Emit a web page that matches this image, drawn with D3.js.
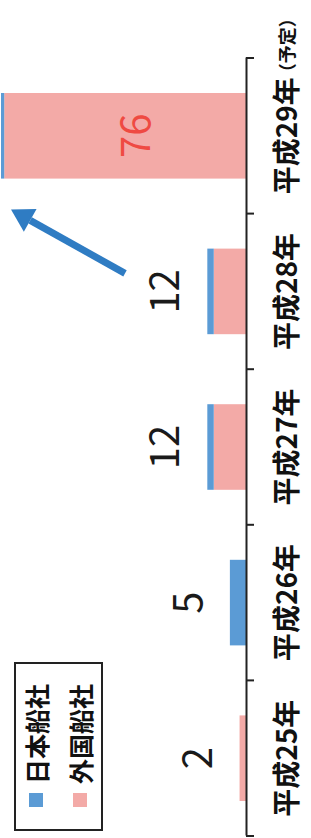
<!DOCTYPE html>
<html>
<head>
<meta charset="utf-8">
<script src="https://cdn.jsdelivr.net/npm/d3@7"></script>
<style>
  body { margin: 0; background: #fff; }
  text { font-family: 'Noto Sans CJK JP', 'Noto Sans', sans-serif; }
</style>
</head>
<body>
<script>
const categories = ['平成25年', '平成26年', '平成27年', '平成28年', '平成29年'];
const notes = ['', '', '', '', '（予定）'];
const japanese = [0, 5, 2, 2, 1];
const foreign = [2, 0, 10, 10, 75];
const seriesNames = ['日本船社', '外国船社'];

const blue = '#5b9bd5';
const pink = '#f3aaa7';

const width = 311;
const height = 838;

// the chart is laid out upright in a 838 x 311 frame and turned a quarter left
const W = height;

const data = categories.map((c, i) => ({
  cat: c,
  note: notes[i],
  japanese: japanese[i],
  foreign: foreign[i],
  total: japanese[i] + foreign[i]
}));

const svg = d3.select('body')
  .append('svg')
  .attr('width', width)
  .attr('height', height);

const g = svg.append('g')
  .attr('transform', `translate(0,${W}) rotate(-90)`);

const x = d3.scaleBand()
  .domain(categories)
  .range([2, 780])
  .paddingInner(0.45)
  .paddingOuter(0.225);

const y = d3.scaleLinear()
  .domain([0, 76])
  .range([246, 1]);

const stacked = d3.stack().keys(['foreign', 'japanese'])(data);
const color = { foreign: pink, japanese: blue };

g.append('g')
  .selectAll('g')
  .data(stacked)
  .enter().append('g')
    .attr('fill', s => color[s.key])
  .selectAll('rect')
  .data(s => s)
  .enter().append('rect')
    .attr('x', d => x(d.data.cat))
    .attr('width', x.bandwidth())
    .attr('y', d => y(d[1]))
    .attr('height', d => y(d[0]) - y(d[1]));

// axis line with ticks on the category boundaries
const axis = g.append('g')
  .attr('transform', `translate(0,${y(0)})`)
  .call(d3.axisBottom(x).tickSize(0).tickFormat(''));
axis.selectAll('.tick').remove();
axis.select('.domain').attr('stroke', '#222').attr('stroke-width', 2);

const step = x.step();
const bounds = categories.map(c => x(c) - step * x.paddingInner() / 2);
bounds.push(bounds[bounds.length - 1] + step);
axis.selectAll('line.bound')
  .data(bounds)
  .enter().append('line')
    .attr('class', 'bound')
    .attr('x1', d => d).attr('x2', d => d)
    .attr('y1', 0).attr('y2', 8)
    .attr('stroke', '#222')
    .attr('stroke-width', 2);

// category labels
const catLabels = g.append('g')
  .selectAll('g')
  .data(data)
  .enter().append('g');

catLabels.append('text')
  .attr('class', 'cat')
  .attr('x', d => x(d.cat) + x.bandwidth() / 2)
  .attr('y', 285)
  .attr('text-anchor', 'middle')
  .attr('dominant-baseline', 'central')
  .attr('font-size', 28)
  .attr('font-weight', 'bold')
  .attr('fill', '#111')
  .text(d => d.cat);

catLabels.filter(d => d.note)
  .append('text')
  .attr('x', function(d) {
    const w = this.parentNode.querySelector('text.cat').getComputedTextLength();
    return x(d.cat) + x.bandwidth() / 2 + w / 2 - 4;
  })
  .attr('y', 286)
  .attr('dominant-baseline', 'central')
  .attr('font-size', 18)
  .attr('font-weight', 'bold')
  .attr('fill', '#111')
  .text(d => d.note);

// totals
g.append('g')
  .selectAll('text')
  .data(data)
  .enter().append('text')
    .attr('x', d => x(d.cat) + x.bandwidth() / 2)
    .attr('y', d => d.total > 40 ? y(d.total / 2) + 26 : y(d.total) - 28)
    .attr('text-anchor', 'middle')
    .attr('font-family', "'Liberation Sans', Arial, sans-serif")
    .attr('font-size', 40)
    .attr('fill', d => d.total > 40 ? '#ef4a42' : '#1a1a1a')
    .text(d => d.total);

// annotation arrow pointing at the last bar
const tail = [x(categories[3]) + x.bandwidth() / 2 + 18, 125];
const tip = [x(categories[4]) - 31, y(data[4].total) + 10];
const ang = Math.atan2(tip[1] - tail[1], tip[0] - tail[0]);
const headLen = 22, headW = 13;
const base = [tip[0] - headLen * Math.cos(ang), tip[1] - headLen * Math.sin(ang)];
const nx = -Math.sin(ang), ny = Math.cos(ang);

g.append('line')
  .attr('x1', tail[0]).attr('y1', tail[1])
  .attr('x2', base[0]).attr('y2', base[1])
  .attr('stroke', '#2f7cc3')
  .attr('stroke-width', 7);

g.append('path')
  .attr('d', d3.line()([
    tip,
    [base[0] + nx * headW, base[1] + ny * headW],
    [base[0] - nx * headW, base[1] - ny * headW]
  ]) + 'Z')
  .attr('fill', '#2f7cc3');

// legend
const legend = g.append('g');
legend.append('rect')
  .attr('x', 8).attr('y', 15)
  .attr('width', 167).attr('height', 87)
  .attr('fill', 'none')
  .attr('stroke', '#222')
  .attr('stroke-width', 2);

const items = legend.selectAll('g.item')
  .data(seriesNames)
  .enter().append('g')
    .attr('class', 'item')
    .attr('transform', (d, i) => `translate(0,${36 + i * 44})`);

items.append('rect')
  .attr('x', 31).attr('y', -7)
  .attr('width', 14).attr('height', 14)
  .attr('fill', (d, i) => i === 0 ? blue : pink);

items.append('text')
  .attr('x', 54)
  .attr('y', 0)
  .attr('dominant-baseline', 'central')
  .attr('font-size', 25)
  .attr('font-weight', 'bold')
  .attr('fill', '#111')
  .text(d => d);
</script>
</body>
</html>
